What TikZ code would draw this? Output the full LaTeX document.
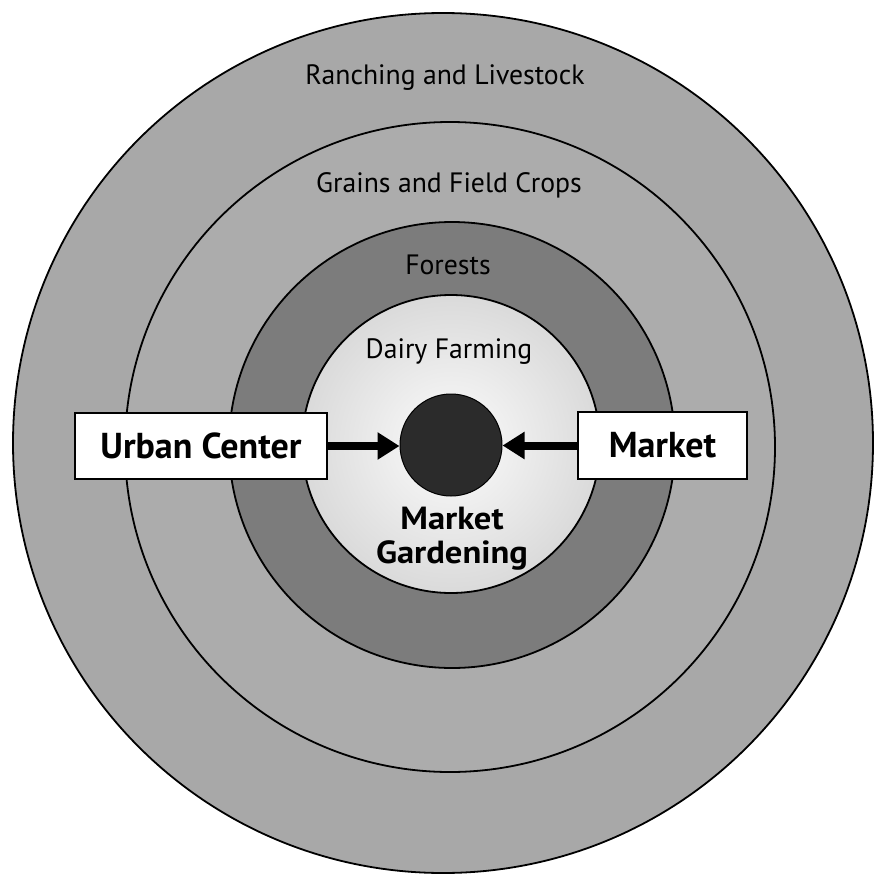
\documentclass[tikz,border=0pt]{standalone}
\usepackage{fontspec}
\setmainfont{PT Sans}
\usetikzlibrary{arrows.meta}
\definecolor{ringA}{HTML}{A8A8A8}
\definecolor{ringB}{HTML}{ACACAC}
\definecolor{ringC}{HTML}{7C7C7C}
\definecolor{ringD}{HTML}{DADADA}
\definecolor{dotc}{HTML}{2B2B2B}
\tikzset{
  ring/.style={draw=black, line width=1.8pt},
  zonelabel/.style={inner sep=0pt, text=black, font=\fontsize{28}{32}\selectfont, xscale=0.99},
  boxlabel/.style={draw=black, fill=white, line width=1.8pt, inner sep=0pt,
    font=\fontsize{36}{40}\selectfont\bfseries},
  gardenlabel/.style={inner sep=0pt, align=center, xscale=1.08,
    font=\fontsize{32}{34}\selectfont\bfseries},
  flowarrow/.style={line width=8pt, -{Triangle[length=22pt,width=26pt]}},
}
\begin{document}
\begin{tikzpicture}[x=1pt,y=-1pt]
\useasboundingbox (0,0) rectangle (881,878);
\fill[white] (0,0) rectangle (881,878);
% rings
\filldraw[ring, fill=ringA] (443,443) circle[radius=430pt];
\filldraw[ring, fill=ringB] (450,447) circle[radius=325pt];
\filldraw[ring, fill=ringC] (452,445) circle[radius=223pt];
\shade[inner color=white!92!ringD, outer color=ringD] (451,444) circle[radius=149pt];
\draw[ring] (451,444) circle[radius=149pt];
% center dot
\node[circle, fill=dotc, draw=black, line width=1pt, minimum size=102pt, inner sep=0pt] (dot) at (451,445) {};
% zone labels
\node[zonelabel] (ranch) at (445,78) {Ranching and Livestock};
\node[zonelabel] (grains) at (449,185) {Grains and Field Crops};
\node[zonelabel] (forest) at (448,265) {Forests};
\node[zonelabel] (dairy) at (449,352) {Dairy Farming};
\node[gardenlabel] (garden) at (452,539) {Market\\Gardening};
% boxes
\node[boxlabel, minimum width=252pt, minimum height=66pt] (urban) at (201,446) {Urban Center};
\node[boxlabel, minimum width=169pt, minimum height=67pt] (market) at (662.5,445.5) {Market};
% arrows
\draw[flowarrow] (urban.east) -- (urban.east -| dot.west);
\draw[flowarrow] (market.west) -- (market.west -| dot.east);
\end{tikzpicture}
\end{document}
